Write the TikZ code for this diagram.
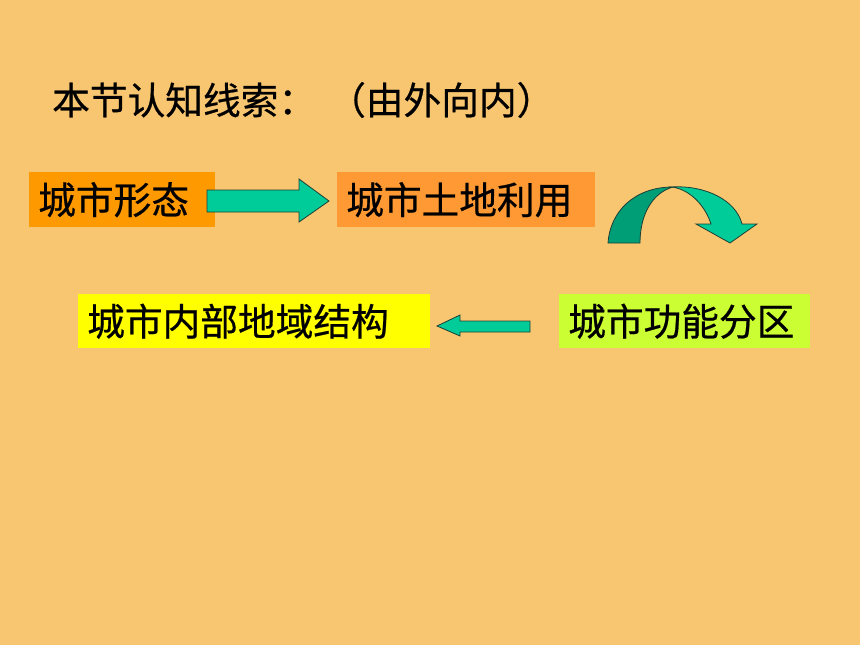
\documentclass[tikz,border=0pt]{standalone}
\usepackage{fontspec}
\newfontfamily\cjk[FakeBold=0.6]{Noto Sans CJK SC}
\usetikzlibrary{calc}
\definecolor{bgc}{HTML}{F8C670}
\definecolor{c1}{HTML}{FF9900}
\definecolor{c2}{HTML}{FF9933}
\definecolor{c3}{HTML}{FFFF00}
\definecolor{c4}{HTML}{CCFF33}
\definecolor{arrlight}{HTML}{00CC99}
\definecolor{arrdark}{HTML}{009E77}
\definecolor{arrline}{HTML}{1F3F36}
\tikzset{
  cjktext/.style={font=\cjk\fontsize{37.7}{40}\selectfont, text=black},
  lbl/.style={cjktext, inner xsep=9pt, inner ysep=0pt, align=left, anchor=north west, minimum height=#1},
  blockarrow/.style={fill=arrlight, draw=arrline, line width=0.8pt, line join=miter},
}
\begin{document}
\begin{tikzpicture}[x=1pt,y=-1pt]
\fill[bgc] (0,0) rectangle (860,645);
\useasboundingbox (0,0) rectangle (860,645);

\node[cjktext, anchor=west, inner sep=0pt] (title) at (52,100) {本节认知线索：};
\node[cjktext, anchor=west, inner sep=0pt] (title2) at (328,100) {（由外向内）};

\node[lbl=55pt, fill=c1, text width=168pt] (b1) at (29,172) {城市形态};
\node[lbl=55pt, fill=c2, text width=240pt] (b2) at (337,172) {城市土地利用};
\node[lbl=54pt, fill=c3, text width=334pt] (b3) at (78,294) {城市内部地域结构};
\node[lbl=54pt, fill=c4, text width=233pt] (b4) at (559,294) {城市功能分区};

% right block arrow b1 -> b2
\draw[blockarrow] (207,190) -- (299,190) -- (299,179) -- (329,201) -- (299,222) -- (299,212) -- (207,212) -- cycle;

% left block arrow b4 -> b3
\draw[blockarrow] (530,321) -- (460,321) -- (460,315) -- (437,326) -- (460,336) -- (460,332) -- (530,332) -- cycle;

% curved arrow b2 -> b4
\draw[fill=arrdark, draw=arrline, line width=0.8pt]
  (608,243) .. controls (610,212) and (634,187) .. (673,187)
  .. controls (652,193) and (640,215) .. (640,243) -- cycle;
\draw[blockarrow]
  (672,187) .. controls (705,185) and (736,200) .. (742,224)
  -- (757,224) -- (730,243) -- (696,224) -- (711,224)
  .. controls (706,208) and (692,190) .. (672,187) -- cycle;
\end{tikzpicture}
\end{document}
